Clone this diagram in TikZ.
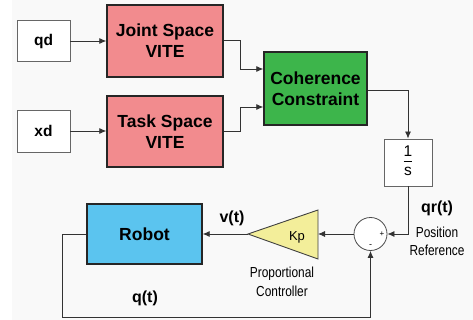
\documentclass[tikz,border=0pt]{standalone}
\usepackage{fontspec}
\setmainfont{Liberation Sans}
\newfontfamily\narrowfont[FakeStretch=0.82]{Liberation Sans}
\usetikzlibrary{arrows.meta,calc}
\definecolor{pinkfill}{HTML}{F28B8E}
\definecolor{greenfill}{HTML}{3DB54B}
\definecolor{bluefill}{HTML}{5BC4EF}
\definecolor{yellowfill}{HTML}{F3EE9A}
\definecolor{bgcol}{HTML}{F9F9F9}
\definecolor{linecol}{HTML}{333333}
\begin{document}
\begin{tikzpicture}[x=1pt,y=-1pt,
  bigbox/.style={draw=black!85,line width=1.4pt,inner sep=0pt,align=center,
    font=\bfseries\fontsize{17.5}{21}\selectfont},
  smallbox/.style={draw=black!60,fill=white,line width=0.9pt,inner sep=0pt,align=center},
  arr/.style={draw=linecol,line width=0.8pt,-{Latex[length=7pt,width=6pt]}},
  wire/.style={draw=linecol,line width=0.8pt},
  sig/.style={font=\bfseries\fontsize{16}{18}\selectfont},
  note/.style={font=\narrowfont\fontsize{14.5}{18.5}\selectfont,align=center}]
\useasboundingbox (0,0) rectangle (473,320);
\fill[white] (0,0) rectangle (473,320);
\fill[bgcol] (12,0) rectangle (473,320);
% blocks
\node[smallbox,minimum width=53pt,minimum height=41pt,font=\bfseries\fontsize{15.5}{18}\selectfont] (qd) at (43.5,41) {qd};
\node[smallbox,minimum width=53pt,minimum height=42pt,font=\bfseries\fontsize{15.5}{18}\selectfont] (xd) at (43.5,131) {xd};
\node[bigbox,fill=pinkfill,minimum width=116pt,minimum height=72pt] (joint) at (165,41) {Joint Space\\VITE};
\node[bigbox,fill=pinkfill,minimum width=116pt,minimum height=71pt] (task) at (165,131.5) {Task Space\\VITE};
\node[bigbox,fill=greenfill,minimum width=103pt,minimum height=73pt] (coh) at (315.5,88.5) {Coherence\\Constraint};
\node[smallbox,minimum width=48pt,minimum height=47pt,font=\fontsize{15.5}{18}\selectfont] (integ) at (408,162.5)
  {\begin{tabular}{@{}c@{}}1\\[-1pt]\hline\rule{0pt}{15pt}s\end{tabular}};
\node[draw=black!70,fill=white,line width=0.8pt,circle,minimum size=33pt,inner sep=0pt] (sum) at (370.5,234) {};
\node[font=\fontsize{8}{8}\selectfont] (plus) at (382,234) {+};
\node[font=\fontsize{9}{9}\selectfont] (minus) at (370.5,246.5) {-};
\node[bigbox,fill=bluefill,minimum width=115pt,minimum height=60pt] (robot) at (144.5,234) {Robot};
% gain triangle
\coordinate (gainin) at (318,234);
\coordinate (gainout) at (248,234);
\draw[draw=black!75,fill=yellowfill,line width=0.9pt] (gainout) -- (318,210) -- (318,259) -- cycle;
\node[font=\fontsize{13}{14}\selectfont] (kp) at (297,237.5) {Kp};
% connectors
\draw[arr] (qd.east) -- (joint.west);
\draw[arr] (xd.east) -- (xd.east -| task.west);
\draw[arr] ($(joint.east)+(0,-1)$) -- (240,40) |- ($(coh.west)+(0,-19.5)$);
\draw[arr] (task.east) -- (240,131.5) |- ($(coh.west)+(0,18.5)$);
\draw[arr] ($(coh.east)+(0,1.5)$) -| (integ.north);
\draw[arr] (integ.south) |- (sum.east);
\draw[arr] (sum.west) -- (gainin);
\draw[arr] (gainout) -- (robot.east);
\coordinate (fbcorner) at (62,317);
\draw[arr] (robot.west) -| (fbcorner) -| (sum.south);
% labels
\node[sig] (vt) at (232,218) {v(t)};
\node[sig] (qt) at (145,298.5) {q(t)};
\node[sig] (qrt) at (437,208) {qr(t)};
\node[note] (posref) at (437,241.5) {Position\\Reference};
\node[note] (propc) at (282,282) {Proportional\\Controller};
\end{tikzpicture}
\end{document}
